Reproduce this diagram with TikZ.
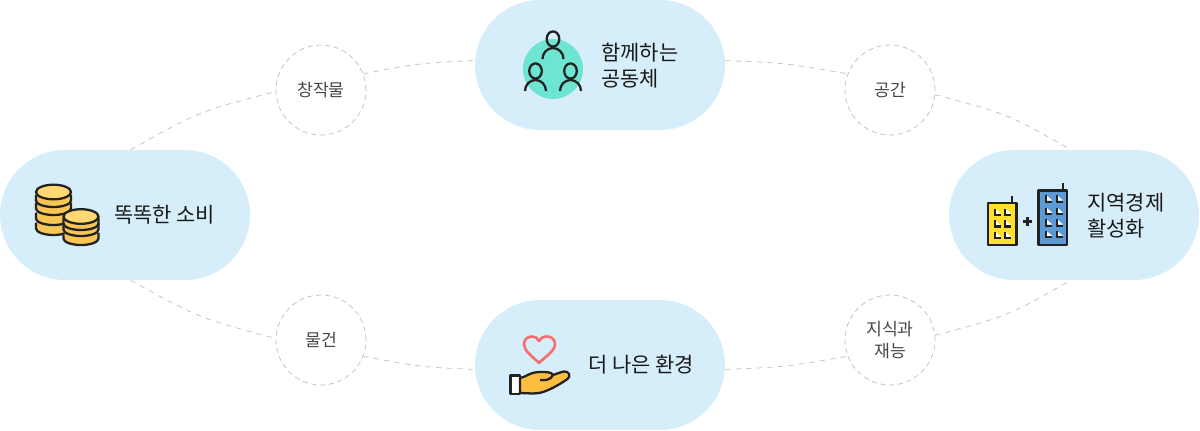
\documentclass[tikz,border=0pt]{standalone}
\usepackage{fontspec}
\setmainfont{Noto Sans CJK KR}
\definecolor{pillblue}{HTML}{D6EEFA}
\definecolor{linegray}{HTML}{C4C4C4}
\definecolor{inkdark}{HTML}{222222}
\definecolor{mintgreen}{HTML}{6EE5D3}
\definecolor{coinyellow}{HTML}{F8C654}
\definecolor{cointop}{HTML}{FFD873}
\definecolor{buildyellow}{HTML}{FFE02E}
\definecolor{buildblue}{HTML}{5B9AD5}
\definecolor{heartred}{HTML}{F76D70}
\definecolor{handorange}{HTML}{FDBE40}
\tikzset{
	pill/.style={fill=pillblue, rounded corners=1.3cm, minimum width=5cm, minimum height=2.6cm, inner sep=0pt},
	topic/.style={circle, draw=linegray, densely dashed, line width=0.45pt, minimum size=1.8cm, inner sep=0pt, align=center, font=\fontsize{9.8}{12.4}\selectfont, text=black!72},
	pilltext/.style={anchor=west, align=left, inner sep=0pt, font=\fontsize{11.9}{14.7}\selectfont, text=black!90},
	link/.style={draw=linegray, dashed, line width=0.45pt},
	icon/.style={draw=inkdark, line width=1.3pt, line join=round},
}
\newcommand{\coinlayer}[3]{% x, y, half width
	\filldraw[icon, fill=coinyellow] (#1-#3,#2) -- (#1-#3,#2+6) arc[x radius=#3,y radius=6.5,start angle=180,end angle=0] -- (#1+#3,#2);
}
\newcommand{\winmark}[2]{% x, y
	\fill[white] (#1+1,#2-6) -- (#1+1,#2-1) -- (#1+6.5,#2-1) -- cycle;
	\draw[inkdark, line width=1.15pt] (#1,#2-6.5) -- (#1,#2) -- (#1+6,#2);
}
\begin{document}
\begin{tikzpicture}[x=0.02cm, y=-0.02cm]
	\useasboundingbox (0,0) rectangle (1200,430);

	% pills
	\node[pill] (together) at (600,65) {};
	\node[pill] (consume) at (125,215) {};
	\node[pill] (economy) at (1074,215) {};
	\node[pill] (better) at (600,365) {};

	% small circles
	\node[topic] (works) at (321,90) {창작물};
	\node[topic] (space) at (890,90) {공간};
	\node[topic] (goods) at (321,340) {물건};
	\node[topic] (talent) at (890,340) {지식과\\재능};

	% dashed links
	\path[link] (consume.85) .. controls (200,111) .. (works.182);
	\path[link] (works.21) .. controls (420,63) .. (together.178);
	\path[link] (together.2) .. controls (785,63) .. (space.159);
	\path[link] (space.-6) .. controls (1008,114) .. (economy.93.5);
	\path[link] (consume.-85) .. controls (199,318) .. (goods.178);
	\path[link] (goods.-21) .. controls (420,367) .. (better.182);
	\path[link] (better.-2) .. controls (785,367) .. (talent.201);
	\path[link] (talent.6) .. controls (1008,316) .. (economy.-93.5);

	% labels
	\node[pilltext] (togethertext) at (601,66) {함께하는\\공동체};
	\node[pilltext] (consumetext) at (114,215) {똑똑한 소비};
	\node[pilltext] (economytext) at (1087,216) {지역경제\\활성화};
	\node[pilltext] (bettertext) at (588,365) {더 나은 환경};

	% people
	\fill[mintgreen] (553,69) circle (30);
	\foreach \px/\py in {553/39, 535.5/71, 570.5/71}{
		\draw[icon] (\px,\py) ellipse (6.3 and 7.6);
		\draw[icon] (\px-10.5,\py+20) arc[x radius=10.5,y radius=11,start angle=180,end angle=360];
	}

	% coins
	\foreach \cy in {222.5,212.5,202.5,194.5}{ \coinlayer{53.5}{\cy}{17.5} }
	\filldraw[icon, fill=cointop] (53.5,192) ellipse (17.5 and 7.3);
	\foreach \cy in {232.5,223.5,217.5}{ \coinlayer{81}{\cy}{17.5} }
	\filldraw[icon, fill=cointop] (81,216.5) ellipse (17.5 and 7.3);

	% buildings
	\draw[icon] (1012.3,196) -- (1012.3,203);
	\filldraw[icon, fill=buildyellow] (988,203) rectangle (1016.5,245);
	\foreach \wx in {994.5,1005}{ \foreach \wy in {215,226.5,238}{ \winmark{\wx}{\wy} } }
	\draw[inkdark, line width=1.5pt] (1023.3,221.7) -- (1031.7,221.7) (1027.5,217.3) -- (1027.5,226);
	\draw[icon] (1063.3,183) -- (1063.3,190.5);
	\filldraw[icon, fill=buildblue] (1038.5,190.5) rectangle (1067.3,245);
	\foreach \wx in {1046,1056.7}{ \foreach \wy in {201.7,214,225.7,237.3}{ \winmark{\wx}{\wy} } }

	% heart and hand
	\draw[draw=heartred, line width=1.5pt, line join=round] (539,363) .. controls (532,356) and (524,351) .. (524,344) .. controls (524,339) and (528,336.5) .. (532,336.5) .. controls (535,336.5) and (538,338) .. (539,341) .. controls (540.5,338) and (543,336.5) .. (547,336.5) .. controls (551,336.5) and (555,339) .. (555,344) .. controls (555,351) and (546,356) .. (539,363) -- cycle;
	\filldraw[icon, fill=white] (510.5,375.5) rectangle (520,394);
	\filldraw[icon, fill=handorange] (520,378) .. controls (526,377) and (530,372) .. (540,372) .. controls (546,372) and (552,372) .. (553,375) .. controls (556,374) and (561,372) .. (564,371.5) .. controls (569,371) and (571,376) .. (568,378.5) .. controls (562,383) and (552,389) .. (543,392) .. controls (535,394.5) and (527,393) .. (520,393) -- cycle;
	\draw[icon] (540,380) .. controls (545,380.5) and (551,380) .. (553,375);
\end{tikzpicture}
\end{document}
